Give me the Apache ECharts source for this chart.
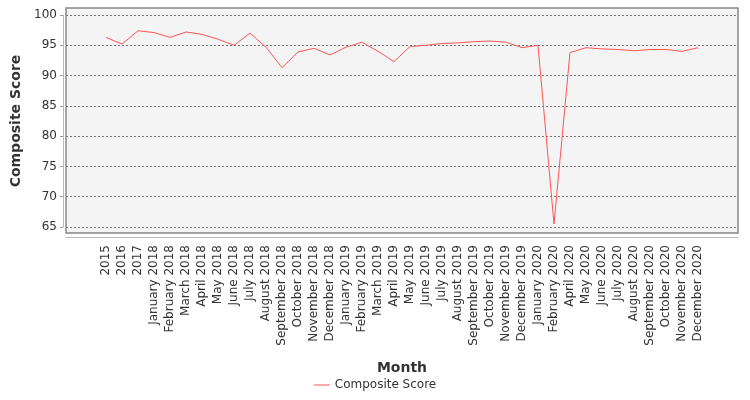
<!DOCTYPE html>
<html><head><meta charset="utf-8">
<script src="https://cdn.jsdelivr.net/npm/echarts@6/dist/echarts.min.js"></script>
<style>html,body{margin:0;padding:0;background:#fff}#c{width:750px;height:400px}</style>
</head><body><div id="c"></div>
<script>
const categories = ["2015","2016","2017",
"January 2018","February 2018","March 2018","April 2018","May 2018","June 2018","July 2018","August 2018","September 2018","October 2018","November 2018","December 2018",
"January 2019","February 2019","March 2019","April 2019","May 2019","June 2019","July 2019","August 2019","September 2019","October 2019","November 2019","December 2019",
"January 2020","February 2020","April 2020","May 2020","June 2020","July 2020","August 2020","September 2020","October 2020","November 2020","December 2020"];
const compositeScore = [96.3,95.2,97.4,97.1,96.3,97.2,96.8,96.0,95.0,97.0,94.7,91.3,93.9,94.5,93.4,
94.7,95.5,94.0,92.3,94.8,95.0,95.3,95.4,95.6,95.7,95.5,94.6,
95.0,65.5,93.8,94.6,94.4,94.3,94.1,94.3,94.3,94.0,94.6];
const yTicks = [65,70,75,80,85,90,95,100];

const pad = 2;
const cats = Array(pad).fill('').map((_, i) => '_p' + i).concat(categories, Array(pad).fill('').map((_, i) => '_q' + i));
const vals = Array(pad).fill('-').concat(compositeScore, Array(pad).fill('-'));
const isReal = (i) => i >= pad && i < pad + categories.length;

const chart = echarts.init(document.getElementById('c'));
chart.setOption({
  animation: false,
  textStyle: { fontFamily: 'DejaVu Sans' },
  graphic: [{ type: 'rect', z: -1, shape: { x: 66, y: 8, width: 672, height: 225 },
    style: { fill: '#f4f4f4', stroke: '#888', lineWidth: 1.5 } }],
  grid: { left: 66, right: 12, top: 15, bottom: 173 },
  legend: { bottom: 4, left: 'center', itemWidth: 16, itemHeight: 8,
    textStyle: { color: '#333', fontSize: 12 }, data: [{ name: 'Composite Score', icon: 'path://M0,4L16,4L16,5L0,5Z' }] },
  xAxis: {
    type: 'category', data: cats, boundaryGap: true, offset: 10,
    name: 'Month', nameLocation: 'middle', nameGap: 124,
    nameTextStyle: { fontWeight: 'bold', fontSize: 14, color: '#333' },
    axisLine: { lineStyle: { color: '#bbb' } },
    axisTick: { alignWithLabel: true, interval: (i) => isReal(i), lineStyle: { color: '#999' } },
    axisLabel: { rotate: 90, interval: 0, fontSize: 12, color: '#333',
      formatter: (v) => v.startsWith('_') ? '' : v },
    splitLine: { show: false }
  },
  yAxis: {
    type: 'value', min: 65, max: 100, interval: 5, offset: 3,
    name: 'Composite Score', nameLocation: 'middle', nameGap: 38,
    nameTextStyle: { fontWeight: 'bold', fontSize: 14, color: '#333' },
    axisLine: { show: true, lineStyle: { color: '#bbb' } },
    axisTick: { show: true, length: 3, lineStyle: { color: '#999' } },
    axisLabel: { fontSize: 12, color: '#333', margin: 6,
      formatter: (v) => yTicks.includes(v) ? String(v) : '' },
    splitLine: { lineStyle: { color: '#777', type: [2, 2], width: 1 } }
  },
  series: [{ name: 'Composite Score', type: 'line', data: vals, symbol: 'none',
    lineStyle: { color: '#ff5555', width: 1 }, itemStyle: { color: '#ff5555' } }]
});
</script></body></html>
